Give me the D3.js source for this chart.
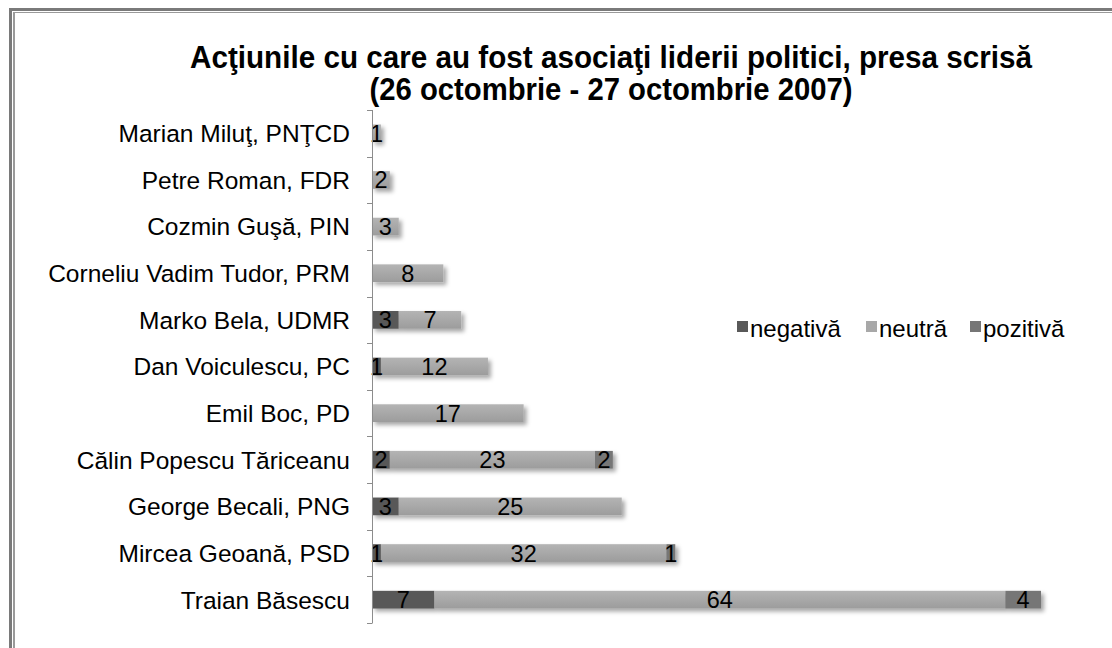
<!DOCTYPE html>
<html>
<head>
<meta charset="utf-8">
<style>
    body { margin: 0; background: #fff; }
    svg { display: block; font-family: 'Liberation Sans', Arial, sans-serif; }
    .cat { font-size: 24.5px; fill: #000; }
    .val { font-size: 23.5px; fill: #000; }
    .title { font-weight: bold; font-size: 31px; fill: #000; }
    .legend text { font-size: 24px; fill: #000; }
</style>
</head>
<body>
<svg width="1112" height="648"></svg>
<script src="https://d3js.org/d3.v7.min.js"></script>
<script>
// data
const leaders = ["Marian Miluţ, PNŢCD", "Petre Roman, FDR", "Cozmin Guşă, PIN",
    "Corneliu Vadim Tudor, PRM", "Marko Bela, UDMR", "Dan Voiculescu, PC",
    "Emil Boc, PD", "Călin Popescu Tăriceanu", "George Becali, PNG",
    "Mircea Geoană, PSD", "Traian Băsescu"];
const negativa = [0, 0, 0, 0, 3, 1, 0, 2, 3, 1, 7];
const neutra   = [1, 2, 3, 8, 7, 12, 17, 23, 25, 32, 64];
const pozitiva = [0, 0, 0, 0, 0, 0, 0, 2, 0, 1, 4];
const seriesNames = ["negativă", "neutră", "pozitivă"];
const titleLines = ["Acţiunile cu care au fost asociaţi liderii politici, presa scrisă",
    "(26 octombrie - 27 octombrie 2007)"];

const colors = { "negativă": "#595959", "neutră": "url(#gradNeutra)", "pozitivă": "#767676" };
const legendColors = { "negativă": "#595959", "neutră": "#a8a8a8", "pozitivă": "#767676" };

const svg = d3.select("svg");

// frame (top + left, double gray line)
svg.append("rect").attr("x", 9).attr("y", 8).attr("width", 1103).attr("height", 3).attr("fill", "#7a7a7a");
svg.append("rect").attr("x", 9).attr("y", 8).attr("width", 3).attr("height", 640).attr("fill", "#7a7a7a");
svg.append("rect").attr("x", 13).attr("y", 12).attr("width", 1099).attr("height", 1).attr("fill", "#9a9a9a");
svg.append("rect").attr("x", 13).attr("y", 12).attr("width", 2).attr("height", 636).attr("fill", "#9a9a9a");

const defs = svg.append("defs");
const grad = defs.append("linearGradient").attr("id", "gradNeutra")
    .attr("x1", 0).attr("y1", 0).attr("x2", 0).attr("y2", 1);
grad.append("stop").attr("offset", "0%").attr("stop-color", "#b4b4b4");
grad.append("stop").attr("offset", "100%").attr("stop-color", "#9c9c9c");
const filt = defs.append("filter").attr("id", "shadow")
    .attr("x", "-20%").attr("y", "-40%").attr("width", "140%").attr("height", "200%");
filt.append("feDropShadow").attr("dx", 3).attr("dy", 3).attr("stdDeviation", 2)
    .attr("flood-color", "#000").attr("flood-opacity", 0.35);

// title, widths fitted to the picture
const titleWidths = [842, 483];
svg.append("g").selectAll("text")
    .data(titleLines)
    .join("text")
    .attr("class", "title")
    .attr("x", 611)
    .attr("y", (d, i) => 68 + i * 32)
    .attr("text-anchor", "middle")
    .attr("textLength", (d, i) => titleWidths[i])
    .attr("lengthAdjust", "spacingAndGlyphs")
    .text(d => d);

const data = leaders.map((name, i) => ({
    name: name, "negativă": negativa[i], "neutră": neutra[i], "pozitivă": pozitiva[i]
}));

const x = d3.scaleLinear().domain([0, 75]).range([372, 1041]);
const y = d3.scaleBand().domain(leaders).range([110, 623])
    .paddingInner(0.62).paddingOuter(0.31);

const stacked = d3.stack().keys(seriesNames)(data);

// bars
const layers = svg.append("g").attr("filter", "url(#shadow)")
    .selectAll("g")
    .data(stacked)
    .join("g")
    .attr("fill", d => colors[d.key]);

layers.selectAll("rect")
    .data(d => d.filter(s => s[1] - s[0] > 0))
    .join("rect")
    .attr("x", d => x(d[0]))
    .attr("y", d => y(d.data.name))
    .attr("width", d => x(d[1]) - x(d[0]))
    .attr("height", y.bandwidth());

// value labels
const labels = [];
stacked.forEach(layer => layer.forEach(s => {
    if (s[1] - s[0] > 0) labels.push({ v: s[1] - s[0], a: s[0], b: s[1], name: s.data.name });
}));
svg.append("g").selectAll("text")
    .data(labels)
    .join("text")
    .attr("class", "val")
    .attr("x", d => (x(d.a) + x(d.b)) / 2)
    .attr("y", d => y(d.name) + y.bandwidth() / 2)
    .attr("dy", "0.36em")
    .attr("text-anchor", "middle")
    .text(d => d.v);

// vertical axis with ticks at band boundaries
const axis = svg.append("g");
axis.append("line")
    .attr("x1", 372.5).attr("x2", 372.5)
    .attr("y1", 110).attr("y2", 623)
    .attr("stroke", "#8c8c8c");
const bounds = d3.range(leaders.length + 1).map(i => 110 + i * y.step());
axis.selectAll(".tick")
    .data(bounds)
    .join("line")
    .attr("x1", 367).attr("x2", 372.5)
    .attr("y1", d => Math.round(d) + 0.5).attr("y2", d => Math.round(d) + 0.5)
    .attr("stroke", "#8c8c8c");

svg.append("g").selectAll("text")
    .data(leaders)
    .join("text")
    .attr("class", "cat")
    .attr("x", 350)
    .attr("y", d => y(d) + y.bandwidth() / 2)
    .attr("dy", "0.36em")
    .attr("text-anchor", "end")
    .text(d => d);

// legend
const legend = svg.append("g").attr("class", "legend");
const legX = [737, 866, 970];
seriesNames.forEach((s, i) => {
    legend.append("rect")
        .attr("x", legX[i]).attr("y", 321)
        .attr("width", 11).attr("height", 11)
        .attr("fill", legendColors[s]);
    legend.append("text")
        .attr("x", legX[i] + 13).attr("y", 328)
        .attr("dy", "0.36em")
        .text(s);
});
</script>
</body>
</html>
